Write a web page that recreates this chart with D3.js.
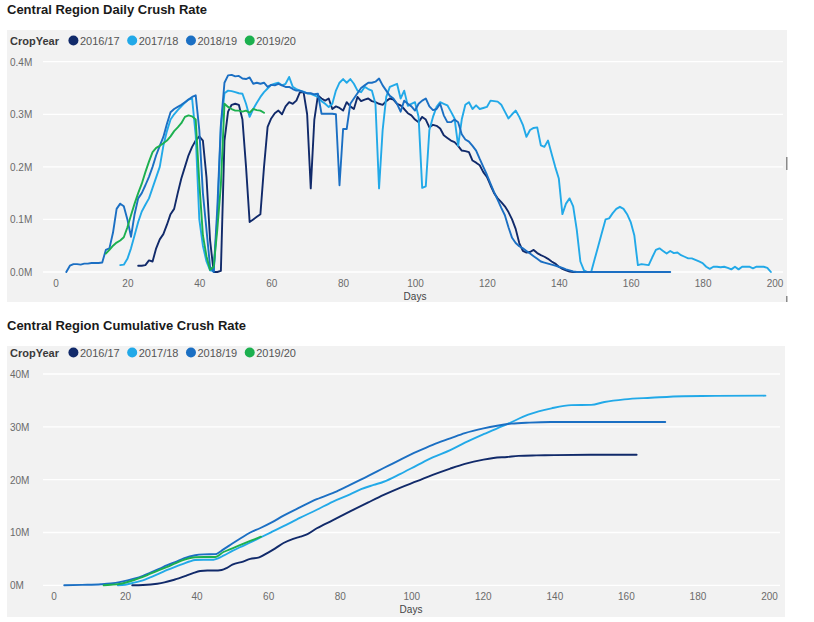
<!DOCTYPE html>
<html><head><meta charset="utf-8">
<script src="https://cdn.jsdelivr.net/npm/d3@7"></script>
<style>
body{margin:0;background:#fff;}
text{font-family:"Liberation Sans",Arial,sans-serif;}
</style></head>
<body><svg id="c" width="814" height="622"></svg>
<script>
// ---------- DATA ----------
const seriesNames = ["2016/17","2017/18","2018/19","2019/20"];
const seriesColors = ["#112a6a","#22a9e8","#1b6fc3","#1cb04f"];

const xTicks = [0,20,40,60,80,100,120,140,160,180,200];
const dailyTicks = [0,0.1,0.2,0.3,0.4];
const dailyTickLabels = ["0.0M","0.1M","0.2M","0.3M","0.4M"];
const cumTicks = [0,10,20,30,40];
const cumTickLabels = ["0M","10M","20M","30M","40M"];

// Daily crush (millions), consecutive days from the start day
const start1617 = 23;
const daily1617 = [0.012,0.012,0.013,0.022,0.02,0.045,0.062,0.072,0.09,0.11,0.12,
 0.15,0.178,0.2,0.222,0.238,0.25,0.258,0.25,0.18,0.06,0.0,0.0,0.002,
 0.25,0.305,0.318,0.32,0.318,0.29,0.2,0.095,0.1,0.105,0.11,0.2,0.276,0.292,0.302,0.307,0.3,
 0.315,0.323,0.32,0.326,0.342,0.342,0.3,0.159,0.29,0.336,0.33,0.326,0.33,0.31,0.315,0.312,
 0.307,0.323,0.315,0.31,0.333,0.325,0.328,0.33,0.325,0.323,0.32,0.318,0.325,0.33,0.328,0.32,
 0.317,0.31,0.302,0.298,0.29,0.285,0.295,0.29,0.275,0.28,0.278,0.273,0.26,0.255,0.25,0.247,
 0.24,0.231,0.23,0.228,0.212,0.208,0.203,0.19,0.181,0.165,0.15,0.14,0.133,0.125,0.114,0.1,
 0.082,0.055,0.04,0.037,0.038,0.042,0.036,0.032,0.029,0.025,0.02,0.016,0.01,0.006,0.003,0.001,
 0,0,0,0,0,0,0,0,0,0,0,0,0,0,0,0,0,0,0,0];

const start1718 = 18;
const daily1718 = [0.013,0.014,0.025,0.045,0.07,0.095,0.115,0.128,0.14,0.16,0.18,0.2,0.24,
 0.268,0.29,0.3,0.308,0.315,0.322,0.328,0.33,0.26,0.1,0.05,0.02,0.003,0.002,0.1,0.276,0.34,
 0.345,0.344,0.342,0.34,0.339,0.32,0.295,0.31,0.322,0.333,0.342,0.349,0.356,0.358,0.36,0.355,
 0.358,0.371,0.352,0.348,0.345,0.343,0.34,0.339,0.336,0.333,0.325,0.32,0.314,0.32,0.345,0.36,
 0.367,0.36,0.367,0.358,0.345,0.342,0.352,0.348,0.345,0.32,0.159,0.27,0.333,0.352,0.355,0.358,
 0.33,0.345,0.316,0.32,0.323,0.295,0.16,0.163,0.27,0.295,0.314,0.323,0.32,0.317,0.305,0.292,
 0.24,0.29,0.318,0.323,0.31,0.317,0.31,0.312,0.314,0.326,0.325,0.324,0.318,0.305,0.292,0.3,
 0.307,0.295,0.28,0.257,0.27,0.274,0.275,0.241,0.238,0.25,0.225,0.2,0.178,0.11,0.13,0.14,
 0.125,0.08,0.02,0.003,0,0,0.025,0.05,0.075,0.1,0.102,0.112,0.12,0.124,0.12,0.11,0.095,0.07,
 0.013,0.015,0.014,0.013,0.028,0.042,0.045,0.04,0.035,0.04,0.036,0.037,0.032,0.029,0.026,
 0.026,0.023,0.02,0.017,0.01,0.006,0.01,0.01,0.009,0.01,0.008,0.005,0.01,0.005,0.01,0.01,
 0.01,0.007,0.01,0.01,0.01,0.008,0.0];

const start1819 = 3;
const daily1819 = [0.0,0.012,0.015,0.015,0.014,0.016,0.016,0.017,0.017,0.017,0.018,0.042,
 0.045,0.075,0.12,0.13,0.125,0.1,0.067,0.11,0.14,0.15,0.165,0.181,0.2,0.222,0.24,0.257,0.282,
 0.304,0.31,0.314,0.318,0.323,0.328,0.333,0.336,0.27,0.15,0.08,0.01,0.0,0.12,0.28,0.36,0.374,
 0.375,0.372,0.373,0.368,0.367,0.37,0.358,0.36,0.358,0.36,0.352,0.356,0.355,0.358,0.355,
 0.352,0.352,0.348,0.345,0.345,0.342,0.34,0.34,0.338,0.339,0.301,0.301,0.301,0.301,0.3,
 0.165,0.272,0.272,0.32,0.33,0.34,0.35,0.355,0.36,0.36,0.362,0.368,0.355,0.345,0.335,0.33,
 0.32,0.305,0.326,0.32,0.315,0.307,0.32,0.326,0.33,0.315,0.308,0.31,0.32,0.298,0.285,0.285,
 0.29,0.285,0.262,0.252,0.248,0.24,0.231,0.215,0.2,0.185,0.168,0.152,0.137,0.122,0.108,
 0.085,0.065,0.055,0.049,0.045,0.04,0.035,0.03,0.025,0.02,0.018,0.016,0.014,0.012,0.01,
 0.008,0.005,0.003,0.001,0,0,0,0,0,0,0,0,0,0,0,0,0,0,0,0,0,0,0,0,0,0,0,0,0,0,0];

const start1920 = 14;
const daily1920 = [0.035,0.042,0.05,0.056,0.06,0.066,0.085,0.108,0.13,0.15,0.168,0.19,0.21,
 0.228,0.236,0.24,0.245,0.25,0.258,0.268,0.275,0.283,0.295,0.298,0.296,0.29,0.17,0.07,0.03,
 0.004,0.01,0.08,0.165,0.32,0.314,0.31,0.307,0.307,0.305,0.307,0.303,0.31,0.308,0.307,0.303];

// Cumulative crush (millions) read at sample days
const cumDays1617 = [22,25,29,31,33.5,35,37,39,41,43,45,47,48.5,50,53,55,57.5,60,62,64.3,67,69,71,
 73.6,78,82.9,88,92.3,97,101.6,106,110.9,115,120.2,123,126.8,130,135,140,150,163];
const cum1617 = [0,0.05,0.3,0.55,1.0,1.3,1.8,2.3,2.7,2.8,2.8,2.9,3.3,3.9,4.5,5.0,5.3,6.2,7.0,8.0,
 8.8,9.2,9.7,10.8,12.3,14.0,15.7,17.1,18.5,19.7,20.9,22.1,23.0,23.8,24.1,24.3,24.5,24.6,24.65,24.7,24.7];

const cumDays1718 = [18,20,22.5,25,27,29.5,31.8,34,36.4,38,39.6,42,44.7,46,47.5,50,52.1,55,57.7,61,
 64.3,69,73.6,78,82.9,86,89.5,92.3,97,101.6,106,110.9,115,120.2,126.8,132.7,139.2,144.7,150.3,154,
 159.6,167,176,185,199];
const cum1718 = [0,0.1,0.5,0.95,1.5,2.2,2.9,3.5,4.1,4.5,4.8,4.85,4.85,5.1,5.6,6.5,7.2,8.1,9.0,10.1,
 11.2,12.8,14.3,15.8,17.2,18.2,19.0,19.6,21.1,22.7,24.2,25.6,27.0,28.6,30.5,32.3,33.5,34.1,34.15,
 34.7,35.2,35.5,35.8,35.85,35.9];

const cumDays1819 = [3,8,13.3,16,18.8,22.5,25,27.1,29.5,31.8,34,36.4,39.6,42,45.2,47.5,50,52.1,55,
 57.7,61,64.3,69,73.6,79.2,82.9,88,92.3,97,101.6,106,110.9,115,120.2,124,128,133,139,150,171];
const cum1819 = [0,0.08,0.2,0.35,0.65,1.25,1.8,2.4,3.1,3.8,4.4,5.1,5.7,5.85,5.9,6.8,7.9,8.8,10.0,
 10.8,11.9,13.2,14.8,16.3,17.8,19.0,20.7,22.2,23.8,25.3,26.6,27.8,28.8,29.7,30.2,30.6,30.8,30.9,
 30.9,30.9];

const cumDays1920 = [14,16,18.8,22.5,25,27.1,29.5,31.8,34,36.4,39.6,42,45.2,47.5,50,52.1,55,58];
const cum1920 = [0,0.1,0.3,1.0,1.6,2.2,2.85,3.5,4.15,4.8,5.3,5.35,5.35,6.3,7.0,7.6,8.4,9.2];

// ---------- BUILD ----------
function seq(start, vals){ return vals.map((v,i)=>({d:start+i, v:v})); }
function pairs(days, vals){ return days.map((d,i)=>({d:d, v:vals[i]})); }

const dailySeries = [seq(start1617,daily1617), seq(start1718,daily1718), seq(start1819,daily1819), seq(start1920,daily1920)];
const cumSeries = [pairs(cumDays1617,cum1617), pairs(cumDays1718,cum1718), pairs(cumDays1819,cum1819), pairs(cumDays1920,cum1920)];

const svg = d3.select("#c");

function drawChart(cfg){
  const g = svg.append("g");
  // panel
  g.append("rect").attr("x",7).attr("y",cfg.panelTop).attr("width",cfg.panelRight-7)
    .attr("height",cfg.panelBottom-cfg.panelTop).attr("fill","#f2f2f2");
  // title
  g.append("text").attr("x",7).attr("y",cfg.titleY).text(cfg.title)
    .attr("font-size","13px").attr("font-weight","bold").attr("fill","#1a1a1a");
  // legend
  const lg = g.append("g");
  const cy = cfg.legendY;
  const lab = lg.append("text").attr("x",10).attr("y",cy+4).text("CropYear")
    .attr("font-size","11px").attr("font-weight","bold").attr("fill","#3a3a3a");
  let xpos = 10 + lab.node().getComputedTextLength() + 14.5;
  seriesNames.forEach((n,i)=>{
    lg.append("circle").attr("cx",xpos).attr("cy",cy).attr("r",5).attr("fill",seriesColors[i]);
    const t = lg.append("text").attr("x",xpos+6.5).attr("y",cy+4).text(n)
      .attr("font-size","11px").attr("fill","#555");
    xpos = xpos + 6.5 + t.node().getComputedTextLength() + 12.5;
  });

  const x = d3.scaleLinear().domain([0,200]).range(cfg.xRange);
  const y = d3.scaleLinear().domain(cfg.yDomain).range(cfg.yRange);

  // grid
  g.append("g").selectAll("line").data(cfg.yTicks).join("line")
    .attr("x1",43).attr("x2",cfg.gridRight)
    .attr("y1",d=>y(d)).attr("y2",d=>y(d))
    .attr("stroke","#ffffff").attr("stroke-width",1.3);

  // y axis labels
  const ya = g.append("g").call(d3.axisLeft(y).tickValues(cfg.yTicks)
      .tickFormat((d,i)=>cfg.yLabels[i]).tickSize(0));
  ya.select(".domain").remove();
  ya.selectAll("text").attr("x",10).attr("text-anchor","start").attr("dy","0.35em")
    .attr("font-size","10px").attr("fill","#6b6b6b").style("font-family","Liberation Sans, Arial, sans-serif");

  // x axis
  const xa = g.append("g").attr("transform",`translate(0,${cfg.xLabelY})`)
    .call(d3.axisBottom(x).tickValues(xTicks).tickSize(0));
  xa.select(".domain").remove();
  xa.selectAll("text").attr("dy","0").attr("y",0)
    .attr("font-size","10px").attr("fill","#6b6b6b").style("font-family","Liberation Sans, Arial, sans-serif");
  g.append("text").attr("x",cfg.daysX).attr("y",cfg.daysY).attr("text-anchor","middle")
    .text("Days").attr("font-size","10px").attr("fill","#444");

  // lines
  const line = d3.line().x(d=>x(d.d)).y(d=>y(d.v));
  if (cfg.smooth) line.curve(d3.curveMonotoneX);
  cfg.series.forEach((s,i)=>{
    g.append("path").datum(s).attr("d",line).attr("fill","none")
      .attr("stroke",seriesColors[i]).attr("stroke-width",cfg.lw)
      .attr("stroke-linejoin","round").attr("stroke-linecap","round");
  });
}

drawChart({
  title:"Central Region Daily Crush Rate", titleY:13.5,
  panelTop:30, panelBottom:302, panelRight:787, gridRight:783,
  legendY:40.5,
  xRange:[55.5,774.5], yDomain:[0,0.4], yRange:[272,61.7],
  yTicks:dailyTicks, yLabels:dailyTickLabels,
  xLabelY:287, daysX:415, daysY:300,
  series:dailySeries, smooth:false, lw:1.9
});

drawChart({
  title:"Central Region Cumulative Crush Rate", titleY:330,
  panelTop:346, panelBottom:617, panelRight:785, gridRight:780,
  legendY:352.5,
  xRange:[53.5,769], yDomain:[0,40], yRange:[585.3,374],
  yTicks:cumTicks, yLabels:cumTickLabels,
  xLabelY:600, daysX:411, daysY:613,
  series:cumSeries, smooth:true, lw:1.9
});

// resize handle marks at the right edge of the first visual
svg.append("rect").attr("x",786).attr("y",157).attr("width",1.5).attr("height",13).attr("fill","#8a8a8a");
svg.append("rect").attr("x",786).attr("y",296).attr("width",1.5).attr("height",6).attr("fill","#8a8a8a");
</script>
</body></html>
